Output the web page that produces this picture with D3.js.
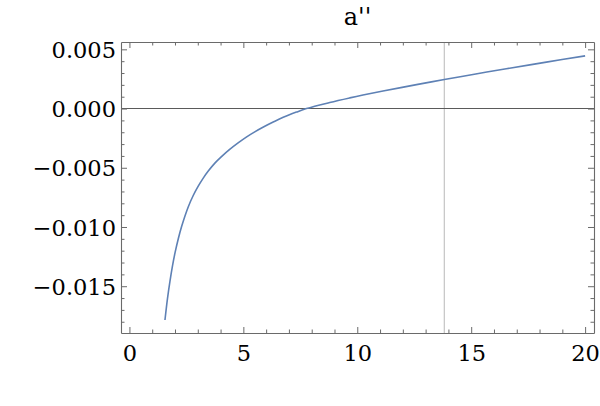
<!DOCTYPE html>
<html>
<head>
<meta charset="utf-8">
<script src="https://cdn.jsdelivr.net/npm/d3@7"></script>
<style>
  html, body { margin: 0; padding: 0; background: #fff; }
  svg { display: block; }
</style>
</head>
<body>
<svg id="chart" width="600" height="406"></svg>
<script>
// ---- data ----
const title = "a''";
const xValues = [1.56, 1.67, 1.78, 1.89, 2.0, 2.15, 2.29, 2.58, 2.8, 3.02, 3.24, 3.46, 3.75, 4.04, 4.4, 4.77, 5.13, 5.5, 5.9, 6.31, 6.75, 7.33, 7.77, 8.79, 9.67, 10.25, 11.13, 12.6, 13.82, 15.2, 16.54, 18.3, 20];
const yValues = [-0.01785, -0.01605, -0.01457, -0.01328, -0.01219, -0.01095, -0.00996, -0.00831, -0.00734, -0.00655, -0.00587, -0.00528, -0.00461, -0.00406, -0.00345, -0.0029, -0.00241, -0.00197, -0.00154, -0.00114, -0.00074, -0.0003, 0, 0.00051, 0.0009, 0.00114, 0.00148, 0.00202, 0.00245, 0.00292, 0.00336, 0.00392, 0.00445];
const xTicks = [0, 5, 10, 15, 20];
const xTickLabels = ["0", "5", "10", "15", "20"];
const yTicks = [0.005, 0, -0.005, -0.010, -0.015];
const yTickLabels = ["0.005", "0.000", "\u22120.005", "\u22120.010", "\u22120.015"];
const markerX = 13.82;

const FONT = '"DejaVu Serif", "Liberation Serif", serif';

// ---- layout ----
const W = 600, H = 406;
const margin = { left: 121, right: 6, top: 42, bottom: 73 };
const svg = d3.select("#chart");

const x = d3.scaleLinear().domain([-0.37, 20.39]).range([margin.left, W - margin.right]);
const y = d3.scaleLinear().domain([-0.01895, 0.00562]).range([H - margin.bottom, margin.top]);

const frameColor = "#6a6a6a";

// marker vertical line
svg.append("line")
  .attr("x1", x(markerX)).attr("x2", x(markerX))
  .attr("y1", y.range()[0]).attr("y2", y.range()[1])
  .attr("stroke", "#c4c4c4").attr("stroke-width", 1.2);

// zero axis line
svg.append("line")
  .attr("x1", x.range()[0]).attr("x2", x.range()[1])
  .attr("y1", y(0)).attr("y2", y(0))
  .attr("stroke", "#5a5a5a").attr("stroke-width", 1.1);

// curve
const pts = xValues.map((v, i) => [v, yValues[i]]);
svg.append("path")
  .datum(pts)
  .attr("fill", "none")
  .attr("stroke", "#5e81b5")
  .attr("stroke-width", 1.6)
  .attr("stroke-linejoin", "round")
  .attr("d", d3.line().x(d => x(d[0])).y(d => y(d[1])).curve(d3.curveCatmullRom.alpha(0.5)));

// frame via axes with inward ticks
const majorLen = 6, minorLen = 3.5;
const xMinor = d3.range(0, 21, 1).filter(v => v % 5 !== 0);
const yMinor = d3.range(-18, 6, 1).map(v => v / 1000).filter(v => Math.abs(Math.round(v * 1000)) % 5 !== 0);

function styleAxis(g) {
  g.selectAll(".domain").attr("stroke", frameColor).attr("stroke-width", 1.1);
  g.selectAll(".tick line").attr("stroke", frameColor).attr("stroke-width", 1);
}

const bottomY = y.range()[0], topY = y.range()[1];
const leftX = x.range()[0], rightX = x.range()[1];

// bottom major with labels
const gBottom = svg.append("g").attr("transform", `translate(0,${bottomY})`)
  .call(d3.axisBottom(x).tickValues(xTicks).tickSizeInner(-majorLen).tickSizeOuter(0)
    .tickPadding(12).tickFormat((d, i) => xTickLabels[i]));
styleAxis(gBottom);
gBottom.selectAll("text").style("font-family", FONT).style("font-size", "22.5px").attr("fill", "#000").attr("dy", "0.73em").attr("y", 12);
svg.append("g").attr("transform", `translate(0,${bottomY})`)
  .call(d3.axisBottom(x).tickValues(xMinor).tickSize(-minorLen).tickFormat(""))
  .call(g => { g.select(".domain").remove(); styleAxis(g); });

// top
const gTop = svg.append("g").attr("transform", `translate(0,${topY})`)
  .call(d3.axisTop(x).tickValues(xTicks).tickSizeInner(-majorLen).tickSizeOuter(0).tickFormat(""));
styleAxis(gTop);
svg.append("g").attr("transform", `translate(0,${topY})`)
  .call(d3.axisTop(x).tickValues(xMinor).tickSize(-minorLen).tickFormat(""))
  .call(g => { g.select(".domain").remove(); styleAxis(g); });

// left with labels
const gLeft = svg.append("g").attr("transform", `translate(${leftX},0)`)
  .call(d3.axisLeft(y).tickValues(yTicks).tickSizeInner(-majorLen).tickSizeOuter(0)
    .tickPadding(5).tickFormat((d, i) => yTickLabels[i]));
styleAxis(gLeft);
gLeft.selectAll("text").style("font-family", FONT).style("font-size", "22.5px").attr("fill", "#000").attr("x", -5).attr("dy", "0.36em");
svg.append("g").attr("transform", `translate(${leftX},0)`)
  .call(d3.axisLeft(y).tickValues(yMinor).tickSize(-minorLen).tickFormat(""))
  .call(g => { g.select(".domain").remove(); styleAxis(g); });

// right
const gRight = svg.append("g").attr("transform", `translate(${rightX},0)`)
  .call(d3.axisRight(y).tickValues(yTicks).tickSizeInner(-majorLen).tickSizeOuter(0).tickFormat(""));
styleAxis(gRight);
svg.append("g").attr("transform", `translate(${rightX},0)`)
  .call(d3.axisRight(y).tickValues(yMinor).tickSize(-minorLen).tickFormat(""))
  .call(g => { g.select(".domain").remove(); styleAxis(g); });

// title
svg.append("text")
  .attr("x", (leftX + rightX) / 2).attr("y", 25)
  .attr("text-anchor", "middle")
  .style("font-family", FONT)
  .style("font-size", "24px")
  .attr("fill", "#000")
  .text(title);
</script>
</body>
</html>
